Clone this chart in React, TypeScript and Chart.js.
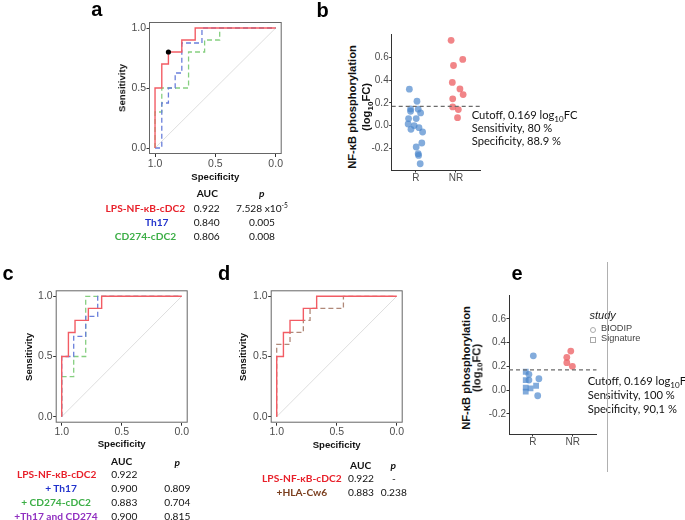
import React, { useEffect, useRef } from 'react';
import { Chart, registerables } from 'chart.js';

Chart.register(...registerables);

const AX_FONT = "'Liberation Sans', Arial, Helvetica, sans-serif";
const TX_FONT = "Lato, 'Open Sans', sans-serif";

// ---------------- ROC curves: (specificity, sensitivity) vertices ----------------
// Panel a
const aLpsSpec = [1, 1, 0.944, 0.944, 0.889, 0.889, 0.778, 0.778, 0.667, 0.667, 0];
const aLpsSens = [0, 0.5, 0.5, 0.7, 0.7, 0.8, 0.8, 0.9, 0.9, 1, 1];
const aTh17Spec = [1, 0.944, 0.944, 0.889, 0.889, 0.833, 0.833, 0.778, 0.778, 0.611, 0.611, 0];
const aTh17Sens = [0, 0, 0.375, 0.375, 0.5, 0.5, 0.625, 0.625, 0.875, 0.875, 1, 1];
const aCd274Spec = [1, 1, 0.944, 0.944, 0.722, 0.722, 0.589, 0.589, 0.464, 0.464, 0];
const aCd274Sens = [0, 0.3, 0.3, 0.5, 0.5, 0.8, 0.8, 0.9, 0.9, 1, 1];
const aCutoffSpec = [0.889];
const aCutoffSens = [0.8];

// Panel c
const cLpsSpec = [1, 1, 0.944, 0.944, 0.889, 0.889, 0.778, 0.778, 0.667, 0.667, 0];
const cLpsSens = [0, 0.5, 0.5, 0.7, 0.7, 0.8, 0.8, 0.9, 0.9, 1, 1];
const cTh17Spec = [1, 1, 0.9, 0.9, 0.8, 0.8, 0.7, 0.7, 0];
const cTh17Sens = [0, 0.5, 0.5, 0.667, 0.667, 0.833, 0.833, 1, 1];
const cCd274Spec = [1, 1, 0.9, 0.9, 0.8, 0.8, 0];
const cCd274Sens = [0, 0.333, 0.333, 0.5, 0.5, 1, 1];

// Panel d
const dLpsSpec = [1, 1, 0.944, 0.944, 0.889, 0.889, 0.778, 0.778, 0.667, 0.667, 0];
const dLpsSens = [0, 0.5, 0.5, 0.7, 0.7, 0.8, 0.8, 0.9, 0.9, 1, 1];
const dHlaSpec = [1, 1, 0.889, 0.889, 0.778, 0.778, 0.722, 0.722, 0.444, 0.444, 0];
const dHlaSens = [0, 0.6, 0.6, 0.7, 0.7, 0.8, 0.8, 0.9, 0.9, 1, 1];

const chanceSpec = [1, 0];
const chanceSens = [0, 1];
const rocTicks = [0, 0.5, 1];

// ---------------- Panel b: NF-kB phosphorylation (log10 FC) ----------------
const groupLabels = ['R', 'NR'];
const bRJitter = [0.84, 1.03, 0.87, 0.87, 1.06, 1.12, 1.01, 0.82, 0.81, 0.96, 1.08, 0.88, 1.17, 1.15, 1.01, 1.06, 1.07, 1.11];
const bRValues = [0.32, 0.214, 0.146, 0.126, 0.144, 0.111, 0.062, 0.062, 0.014, 0.0, -0.018, -0.033, -0.056, -0.153, -0.188, -0.247, -0.262, -0.335];
const bNRJitter = [1.88, 2.17, 1.94, 1.91, 2.1, 2.18, 1.92, 1.92, 2.06, 2.04];
const bNRValues = [0.749, 0.581, 0.528, 0.379, 0.322, 0.273, 0.235, 0.164, 0.141, 0.07];
const cutoffFC = 0.169;
const fcTicks = [-0.2, 0, 0.2, 0.4, 0.6];

// ---------------- Panel e ----------------
const eRJitter = [1.01, 0.82, 0.9, 0.82, 0.9, 1.15, 1.08, 0.94, 0.82, 0.82, 1.12];
const eRValues = [0.288, 0.154, 0.132, 0.084, 0.084, 0.095, 0.036, 0.014, 0.02, -0.014, -0.048];
const eRStudy = ['BIODIP', 'Signature', 'BIODIP', 'Signature', 'BIODIP', 'BIODIP', 'Signature', 'Signature', 'Signature', 'Signature', 'BIODIP'];
const eNRJitter = [1.95, 1.85, 1.85, 1.99];
const eNRValues = [0.328, 0.275, 0.23, 0.2];
const eNRStudy = ['BIODIP', 'BIODIP', 'BIODIP', 'BIODIP'];

// ---------------- Tables ----------------
const tabALabels = ['LPS-NF-κB-cDC2', 'Th17', 'CD274-cDC2'];
const tabAAuc = ['0.922', '0.840', '0.806'];
const tabAP = ['7.528 x10', '0.005', '0.008'];
const tabCLabels = ['LPS-NF-κB-cDC2', '+ Th17', '+ CD274-cDC2', '+Th17 and CD274'];
const tabCAuc = ['0.922', '0.900', '0.883', '0.900'];
const tabCP = ['-', '0.809', '0.704', '0.815'];
const tabDLabels = ['LPS-NF-κB-cDC2', '+HLA-Cw6'];
const tabDAuc = ['0.922', '0.883'];
const tabDP = ['-', '0.238'];

const RED = '#f25c64';
const BLUE = '#6a7fdb';
const GREEN = '#86cf80';
const BROWN = '#b08878';
const T_RED = '#e8202a';
const T_BLUE = '#2233cc';
const T_GREEN = '#3cae46';
const T_PURPLE = '#9030c0';
const T_BROWN = '#7b3f1f';

const framePlugin = {
  id: 'frame',
  afterDatasetsDraw(chart: any, _args: any, opts: any) {
    if (!opts || !opts.enabled) return;
    const { left, top, right, bottom } = chart.chartArea;
    const ctx = chart.ctx;
    ctx.save();
    ctx.strokeStyle = opts.color;
    ctx.lineWidth = 1;
    ctx.strokeRect(left + 0.5, top + 0.5, right - left - 1, bottom - top - 1);
    ctx.restore();
  },
};

type Rect = { x: number; y: number; w: number; h: number };
type Area = { l: number; t: number; r: number; b: number };

function pts(xs: number[], ys: number[]) {
  return xs.map((x, i) => ({ x, y: ys[i] }));
}

function line(xs: number[], ys: number[], color: string, dash: number[], width = 1.3) {
  return {
    data: pts(xs, ys),
    showLine: true,
    borderColor: color,
    borderWidth: width,
    borderDash: dash,
    pointRadius: 0,
    fill: false,
  };
}

function rocConfig(c: Rect, a: Area, datasets: any[]) {
  const yW = a.l - c.x;
  const xH = c.y + c.h - a.b;
  const tickFont = { family: AX_FONT, size: 10.5 };
  return {
    type: 'scatter',
    data: {
      datasets: [
        ...datasets,
        line(chanceSpec, chanceSens, '#d6d6d6', [], 0.8),
      ],
    },
    plugins: [framePlugin],
    options: {
      animation: false,
      responsive: false,
      maintainAspectRatio: false,
      layout: { padding: { top: a.t - c.y, right: c.x + c.w - a.r, left: 0, bottom: 0 } },
      plugins: {
        legend: { display: false },
        tooltip: { enabled: false },
        frame: { enabled: true, color: '#666' },
      },
      scales: {
        x: {
          type: 'linear',
          reverse: true,
          min: -0.05,
          max: 1.05,
          afterBuildTicks: (s: any) => { s.ticks = rocTicks.map((v) => ({ value: v })); },
          afterFit: (s: any) => { s.height = xH; },
          ticks: { callback: (v: number) => v.toFixed(1), font: tickFont, color: '#4d4d4d', padding: 0.5, maxRotation: 0, autoSkip: false },
          grid: { drawOnChartArea: false, drawTicks: true, tickLength: 3, color: '#333' },
          border: { display: false },
        },
        y: {
          type: 'linear',
          min: -0.05,
          max: 1.05,
          afterBuildTicks: (s: any) => { s.ticks = rocTicks.map((v) => ({ value: v })); },
          afterFit: (s: any) => { s.width = yW; },
          ticks: { callback: (v: number) => v.toFixed(1), font: tickFont, color: '#4d4d4d', padding: 0.5, autoSkip: false },
          grid: { drawOnChartArea: false, drawTicks: true, tickLength: 2.5, color: '#333' },
          border: { display: false },
        },
      },
    },
  };
}

function dotConfig(c: Rect, a: Area, yMin: number, yMax: number, datasets: any[]) {
  const yW = a.l - c.x;
  const xH = c.y + c.h - a.b;
  const tickFont = { family: AX_FONT, size: 10 };
  return {
    type: 'scatter',
    data: {
      datasets: [
        line([0.4, 2.6], [cutoffFC, cutoffFC], '#6b6b6b', [4, 3], 1.2),
        ...datasets,
      ],
    },
    options: {
      animation: false,
      responsive: false,
      maintainAspectRatio: false,
      layout: { padding: { top: a.t - c.y, right: c.x + c.w - a.r, left: 0, bottom: 0 } },
      plugins: { legend: { display: false }, tooltip: { enabled: false } },
      scales: {
        x: {
          type: 'linear',
          min: 0.4,
          max: 2.6,
          afterBuildTicks: (s: any) => { s.ticks = groupLabels.map((_, i) => ({ value: i + 1 })); },
          afterFit: (s: any) => { s.height = xH; },
          ticks: { callback: (v: number) => groupLabels[Math.round(v) - 1], font: tickFont, color: '#4d4d4d', padding: 0, maxRotation: 0, autoSkip: false },
          grid: { drawOnChartArea: false, drawTicks: true, tickLength: 2.5, color: '#333' },
          border: { display: true, color: '#333', width: 1 },
        },
        y: {
          type: 'linear',
          min: yMin,
          max: yMax,
          afterBuildTicks: (s: any) => { s.ticks = fcTicks.map((v) => ({ value: v })); },
          afterFit: (s: any) => { s.width = yW; },
          ticks: { callback: (v: number) => v.toFixed(1), font: tickFont, color: '#4d4d4d', padding: 0.5, autoSkip: false },
          grid: { drawOnChartArea: false, drawTicks: true, tickLength: 2.5, color: '#333' },
          border: { display: true, color: '#333', width: 1 },
        },
      },
    },
  };
}

const R_FILL = 'rgba(72,133,204,0.68)';
const NR_FILL = 'rgba(236,92,96,0.75)';

function pointSet(xs: number[], ys: number[], fill: string, shapes?: string[]) {
  return {
    data: pts(xs, ys),
    showLine: false,
    backgroundColor: fill,
    borderWidth: 0,
    pointStyle: shapes ? shapes.map((s) => (s === 'Signature' ? 'rect' : 'circle')) : 'circle',
    pointRadius: shapes ? shapes.map((s) => (s === 'Signature' ? 4.1 : 3.4)) : 3.4,
  };
}

function ChartBox({ rect, make }: { rect: Rect; make: () => any }) {
  const ref = useRef<HTMLCanvasElement>(null);
  useEffect(() => {
    const chart = new Chart(ref.current as HTMLCanvasElement, make());
    return () => chart.destroy();
  }, []);
  return (
    <canvas
      ref={ref}
      width={rect.w}
      height={rect.h}
      style={{ position: 'absolute', left: rect.x, top: rect.y, width: rect.w, height: rect.h }}
    />
  );
}

function Txt({ x, y, children, align = 'center', style = {} }: any) {
  const tx = align === 'center' ? '-50%' : align === 'right' ? '-100%' : '0';
  return (
    <div
      style={{
        position: 'absolute',
        left: x,
        top: y,
        transform: `translate(${tx}, -50%)`,
        whiteSpace: 'nowrap',
        lineHeight: 1,
        ...style,
      }}
    >
      {children}
    </div>
  );
}

function RotTxt({ x, y, children, style = {} }: any) {
  return (
    <div
      style={{
        position: 'absolute',
        left: x,
        top: y,
        transform: 'translate(-50%, -50%) rotate(-90deg)',
        whiteSpace: 'nowrap',
        lineHeight: 1,
        ...style,
      }}
    >
      {children}
    </div>
  );
}

const axTitle = { fontFamily: AX_FONT, fontWeight: 700, fontSize: 9.6, color: '#111' };
const fcTitle = { fontFamily: AX_FONT, fontWeight: 700, fontSize: 11.2, color: '#111' };
const letter = { fontFamily: AX_FONT, fontWeight: 700, fontSize: 20, color: '#000' };
const tab = { fontFamily: TX_FONT, fontSize: 10.2, color: '#111' };
const tabB = { ...tab, fontWeight: 700 };
const ann = { fontFamily: TX_FONT, fontSize: 11.2, color: '#111' };
const sub = { fontSize: '0.72em', verticalAlign: '-0.3em', lineHeight: 0 } as any;
const sup = { fontSize: '0.65em', verticalAlign: '0.55em', lineHeight: 0 } as any;

const rectA = { x: 100, y: 0, w: 200, h: 175 };
const areaA = { l: 149, t: 22, r: 281.7, b: 154 };
const rectC = { x: 0, y: 270, w: 200, h: 170 };
const areaC = { l: 55.7, t: 290.3, r: 187.7, b: 422.7 };
const rectD = { x: 210, y: 270, w: 210, h: 170 };
const areaD = { l: 270.7, t: 290.3, r: 402.7, b: 422.7 };
const rectB = { x: 360, y: 20, w: 140, h: 170 };
const areaB = { l: 391.7, t: 34.2, r: 480, b: 170 };
const rectE = { x: 480, y: 280, w: 130, h: 170 };
const areaE = { l: 509, t: 295, r: 596.7, b: 434 };

export default function App() {
  const labelColorsA = [T_RED, T_BLUE, T_GREEN];
  const labelXA = [145.3, 156.7, 145.5];
  const rowYA = [207.7, 221.7, 235.7];
  const labelColorsC = [T_RED, T_BLUE, T_GREEN, T_PURPLE];
  const labelXC = [56.7, 61, 56, 56];
  const rowYC = [474.3, 488.3, 502.3, 515.8];
  const labelColorsD = [T_RED, T_BROWN];
  const rowYD = [478.3, 492.3];

  return (
    <div style={{ position: 'absolute', left: 0, top: 0, width: 685, height: 520, background: '#fff', overflow: 'hidden' }}>
      <ChartBox
        rect={rectA}
        make={() =>
          rocConfig(rectA, areaA, [
            { data: pts(aCutoffSpec, aCutoffSens), showLine: false, pointRadius: 2.6, backgroundColor: '#000', borderWidth: 0 },
            line(aLpsSpec, aLpsSens, RED, [], 1.4),
            line(aTh17Spec, aTh17Sens, BLUE, [5, 3], 1.3),
            line(aCd274Spec, aCd274Sens, GREEN, [5, 3], 1.3),
          ])
        }
      />
      <ChartBox
        rect={rectC}
        make={() =>
          rocConfig(rectC, areaC, [
            line(cLpsSpec, cLpsSens, RED, [], 1.4),
            line(cTh17Spec, cTh17Sens, BLUE, [5, 3], 1.3),
            line(cCd274Spec, cCd274Sens, GREEN, [5, 3], 1.3),
          ])
        }
      />
      <ChartBox
        rect={rectD}
        make={() =>
          rocConfig(rectD, areaD, [
            line(dLpsSpec, dLpsSens, RED, [], 1.4),
            line(dHlaSpec, dHlaSens, BROWN, [5, 3], 1.3),
          ])
        }
      />
      <ChartBox
        rect={rectB}
        make={() =>
          dotConfig(rectB, areaB, -0.39, 0.803, [
            pointSet(bNRJitter, bNRValues, NR_FILL),
            pointSet(bRJitter, bRValues, R_FILL),
          ])
        }
      />
      <ChartBox
        rect={rectE}
        make={() =>
          dotConfig(rectE, areaE, -0.37, 0.8, [
            pointSet(eNRJitter, eNRValues, NR_FILL, eNRStudy),
            pointSet(eRJitter, eRValues, R_FILL, eRStudy),
          ])
        }
      />

      {/* panel letters */}
      <Txt x={96.7} y={8.8} style={letter}>a</Txt>
      <Txt x={322.5} y={9.6} style={letter}>b</Txt>
      <Txt x={8} y={273} style={letter}>c</Txt>
      <Txt x={224} y={273} style={letter}>d</Txt>
      <Txt x={517} y={273} style={letter}>e</Txt>

      {/* ROC axis titles */}
      <RotTxt x={121.7} y={88} style={axTitle}>Sensitivity</RotTxt>
      <Txt x={215.3} y={176.5} style={axTitle}>Specificity</Txt>
      <RotTxt x={29.3} y={356.5} style={axTitle}>Sensitivity</RotTxt>
      <Txt x={121.7} y={444.3} style={axTitle}>Specificity</Txt>
      <RotTxt x={243.3} y={356.5} style={axTitle}>Sensitivity</RotTxt>
      <Txt x={336.7} y={444.7} style={axTitle}>Specificity</Txt>

      {/* panel b titles and annotation */}
      <RotTxt x={353.3} y={106.5} style={fcTitle}>NF-κB phosphorylation</RotTxt>
      <RotTxt x={366.7} y={106.5} style={fcTitle}>(log<span style={sub}>10</span>FC)</RotTxt>
      <Txt x={471.7} y={115.3} align="left" style={ann}>Cutoff, 0.169 log<span style={sub}>10</span>FC</Txt>
      <Txt x={471.7} y={128} align="left" style={ann}>Sensitivity, 80 %</Txt>
      <Txt x={471.7} y={140.7} align="left" style={ann}>Specificity, 88.9 %</Txt>

      {/* panel e titles, legend and annotation */}
      <RotTxt x={466.7} y={367.7} style={fcTitle}>NF-κB phosphorylation</RotTxt>
      <RotTxt x={477} y={367.7} style={fcTitle}>(log<span style={sub}>10</span>FC)</RotTxt>
      <Txt x={589.5} y={315} align="left" style={{ fontFamily: AX_FONT, fontStyle: 'italic', fontSize: 11, color: '#222' }}>study</Txt>
      <div style={{ position: 'absolute', left: 589.5, top: 326.8, width: 4.6, height: 4.6, border: '0.8px solid #aaa', borderRadius: '50%' }} />
      <div style={{ position: 'absolute', left: 589.7, top: 336.8, width: 4.4, height: 4.4, border: '0.8px solid #aaa' }} />
      <Txt x={601} y={329.3} align="left" style={{ fontFamily: AX_FONT, fontSize: 9.2, color: '#444' }}>BIODIP</Txt>
      <Txt x={601} y={339} align="left" style={{ fontFamily: AX_FONT, fontSize: 9.2, color: '#444' }}>Signature</Txt>
      <Txt x={587.7} y={380.7} align="left" style={ann}>Cutoff, 0.169 log<span style={sub}>10</span>FC</Txt>
      <Txt x={587.7} y={394.8} align="left" style={ann}>Sensitivity, 100 %</Txt>
      <Txt x={587.7} y={408.7} align="left" style={ann}>Specificity, 90,1 %</Txt>
      <div style={{ position: 'absolute', left: 607.3, top: 262, width: 1, height: 210, background: '#b0b0b0' }} />

      {/* table a */}
      <Txt x={207.3} y={193.3} style={tabB}>AUC</Txt>
      <Txt x={261.7} y={193.3} style={{ ...tabB, fontStyle: 'italic' }}>p</Txt>
      {tabALabels.map((l, i) => (
        <React.Fragment key={'a' + i}>
          <Txt x={labelXA[i]} y={rowYA[i]} style={{ ...tabB, color: labelColorsA[i] }}>{l}</Txt>
          <Txt x={206.7} y={rowYA[i]} style={tab}>{tabAAuc[i]}</Txt>
          <Txt x={262} y={rowYA[i]} style={tab}>
            {tabAP[i]}
            {i === 0 ? <span style={sup}>-5</span> : null}
          </Txt>
        </React.Fragment>
      ))}

      {/* table c */}
      <Txt x={121.7} y={461} style={tabB}>AUC</Txt>
      <Txt x={177.3} y={461.5} style={{ ...tabB, fontStyle: 'italic' }}>p</Txt>
      {tabCLabels.map((l, i) => (
        <React.Fragment key={'c' + i}>
          <Txt x={labelXC[i]} y={rowYC[i]} style={{ ...tabB, color: labelColorsC[i] }}>{l}</Txt>
          <Txt x={124.3} y={rowYC[i]} style={tab}>{tabCAuc[i]}</Txt>
          {i === 0 ? (
            <Txt x={177.3} y={467} style={{ ...tab, fontSize: 6, color: '#999' }}>{tabCP[i]}</Txt>
          ) : (
            <Txt x={177.3} y={rowYC[i]} style={tab}>{tabCP[i]}</Txt>
          )}
        </React.Fragment>
      ))}

      {/* table d */}
      <Txt x={360.7} y={465} style={tabB}>AUC</Txt>
      <Txt x={393.3} y={465} style={{ ...tabB, fontStyle: 'italic' }}>p</Txt>
      {tabDLabels.map((l, i) => (
        <React.Fragment key={'d' + i}>
          <Txt x={301.8} y={rowYD[i]} style={{ ...tabB, color: labelColorsD[i] }}>{l}</Txt>
          <Txt x={361} y={rowYD[i]} style={tab}>{tabDAuc[i]}</Txt>
          <Txt x={393.8} y={rowYD[i]} style={tab}>{tabDP[i]}</Txt>
        </React.Fragment>
      ))}
    </div>
  );
}
